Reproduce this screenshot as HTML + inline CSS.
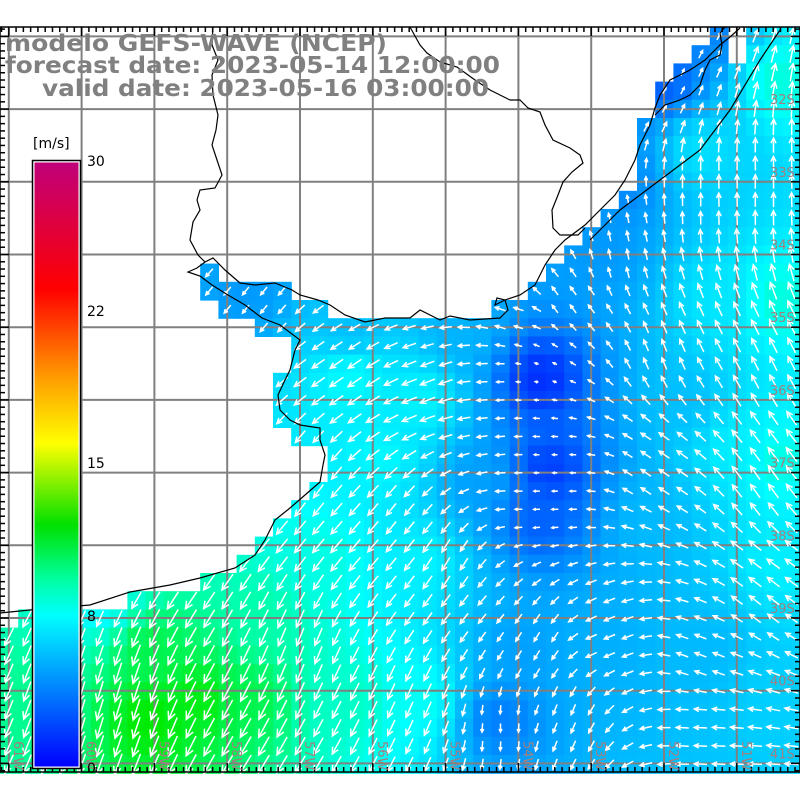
<!DOCTYPE html>
<html><head><meta charset="utf-8">
<style>
html,body{margin:0;padding:0;background:#fff;width:800px;height:800px;overflow:hidden}
svg{display:block}
</style></head>
<body>
<svg id="s" width="800" height="800" xmlns="http://www.w3.org/2000/svg">
<defs>
<linearGradient id="cb" x1="0" y1="0" x2="0" y2="1">
<stop offset="0" stop-color="#c0007a"/>
<stop offset="0.21" stop-color="#ff0000"/>
<stop offset="0.36" stop-color="#ffa000"/>
<stop offset="0.465" stop-color="#ffff00"/>
<stop offset="0.6" stop-color="#00e000"/>
<stop offset="0.69" stop-color="#00ffa0"/>
<stop offset="0.75" stop-color="#00ffff"/>
<stop offset="1" stop-color="#0000ff"/>
</linearGradient>
</defs>
<g id="cells"></g>
<g id="grid" stroke="#808080" stroke-width="2" fill="none"></g>
<g id="arrows" stroke="#fff" stroke-width="1.5" fill="none"></g>
<g id="coast" stroke="#000" stroke-width="1.2" fill="none">
<polyline points="0,613 30,610 90,605 130,592 170,585 200,578 235,568 255,555 265,540 275,520 290,508 305,495 320,482 323,465 325,455 320,440 320,428 300,425 290,420 280,410 278,395 285,380 290,370 295,350 300,340 280,325 262,318 245,305 228,295 212,285 200,276 188,272 197,268 205,262 213,258 225,270 240,283 255,285 275,283 292,290 300,295 318,300 330,305 345,315 365,322 385,318 410,318 420,310 440,320 450,316 470,320 500,318 508,310 505,300 497,298 495,305 505,300 520,295 535,285 545,265 555,250 565,240 585,225 600,210 615,195 625,180 635,160 640,145 650,125 655,108 660,95 670,80 690,70 705,60 720,45 730,37 740,28"/>
<polyline points="590,240 620,210 660,180 700,150 730,110 760,60 780,30"/>
<polyline points="213,27 212,45 218,60 212,75 213,95 218,115 216,130 212,145 217,160 222,175 215,188 200,190 197,200 200,210 193,222 190,240 198,255 205,262"/>
<polyline points="410,27 420,45 427,53 440,62 457,67 475,80 490,90 500,95 510,100 520,100 528,108 540,112 545,125 553,140 570,148 580,155 583,163 572,172 563,182 558,195 552,210 553,228 560,235 578,235 585,228"/>
<polyline points="655,115 665,105 680,100 690,95 700,85 705,70 710,60 720,55 722,45 720,33 725,27"/>
</g>
<g id="ticks" stroke="#000" stroke-width="1.5"></g>
<rect x="0" y="27" width="800" height="745" fill="none" stroke="#000" stroke-width="1.5"/>
<g id="labs" font-family="DejaVu Sans, Liberation Sans, sans-serif" font-size="13" fill="#a08080"></g>
<rect x="32.5" y="160.5" width="48" height="608" fill="#fff" stroke="#000" stroke-width="1.5"/>
<rect x="34.5" y="162.5" width="44" height="604" fill="url(#cb)"/>
<g font-family="DejaVu Sans, Liberation Sans, sans-serif" font-size="14" fill="#000">
<text x="33" y="148">[m/s]</text>
<text x="87" y="166">30</text>
<text x="87" y="316">22</text>
<text x="87" y="468">15</text>
<text x="87" y="621">8</text>
<text x="87" y="773">0</text>
</g>
<g font-family="DejaVu Sans, Liberation Sans, sans-serif" font-weight="bold" font-size="23" fill="#808080">
<text x="5" y="51" textLength="382" lengthAdjust="spacingAndGlyphs">modelo GEFS-WAVE (NCEP)</text>
<text x="5" y="73" textLength="495" lengthAdjust="spacingAndGlyphs">forecast date: 2023-05-14 12:00:00</text>
<text x="42" y="96" textLength="447" lengthAdjust="spacingAndGlyphs">valid date: 2023-05-16 03:00:00</text>
</g>
</svg>
<script>
(function(){
var NS="http://www.w3.org/2000/svg";
function el(t,a,p){var e=document.createElementNS(NS,t);for(var k in a)e.setAttribute(k,a[k]);p.appendChild(e);return e;}
var sea=[[200,263],[218,263],[218,282],[291,282],[291,300],[326,300],[326,318],[490,318],[490,300],[527,300],[527,282],[545,282],[545,263],[563,263],[563,245],[582,245],[582,226],[600,226],[600,208],[618,208],[618,190],[637,190],[637,118],[655,118],[655,81],[673,81],[673,63],[691,63],[691,45],[709,45],[709,27],[800,27],[800,772],[0,772],[0,627],[18,627],[18,609],[127,609],[127,591],[200,591],[200,573],[237,573],[237,555],[255,555],[255,536],[273,536],[273,518],[292,518],[292,500],[310,500],[310,482],[327,482],[327,445],[290,445],[290,427],[273,427],[273,372],[290,372],[290,336],[255,336],[255,318],[218,318],[218,300],[200,300]];
function inPoly(x,y,p){var c=false;for(var i=0,j=p.length-1;i<p.length;j=i++){var xi=p[i][0],yi=p[i][1],xj=p[j][0],yj=p[j][1];if(((yi>y)!=(yj>y))&&(x<(xj-xi)*(y-yi)/(yj-yi)+xi))c=!c;}return c;}
var sp=[[30,700,9.8],[150,720,11.5],[200,700,11.3],[150,650,10.6],[250,700,10.6],[260,620,9.5],[320,560,8.5],[350,700,9],[420,700,8.2],[500,720,4],[520,650,5],[600,650,5.5],[700,650,5.8],[780,700,6.5],[780,560,7.5],[780,460,8.5],[780,300,8.6],[780,80,8.6],[720,300,7.2],[700,150,7],[660,80,3],[600,250,4.8],[540,380,1.5],[550,470,2],[540,520,3],[480,480,5],[420,400,7.6],[350,380,7.9],[380,460,7.8],[250,290,4.8],[350,325,6],[460,330,5.6],[680,400,6],[650,520,5.8],[420,560,7.6],[100,600,7.8],[700,30,4],[620,180,4.2],[740,450,7.5]];
var dr=[[520,500,-1,0],[560,470,-1,0],[650,470,-1,-0.7],[760,480,-0.7,-1],[760,600,-1,-0.8],[700,650,-1,-0.4],[700,740,-1,-0.05],[540,640,-0.6,1],[560,720,-0.4,1],[505,730,0,1],[600,640,-1,0.4],[700,200,0,-1],[760,200,0,-1],[620,250,-0.2,-1],[560,300,-0.7,-1],[520,320,-1,-0.3],[650,100,0.6,-1],[700,40,0.5,-1],[660,350,-0.4,-1],[250,300,-0.8,1],[350,380,-1,0.7],[430,380,-1,0.4],[480,380,-1,0.05],[300,470,-0.7,1],[400,520,-0.8,1],[450,560,-0.6,1],[100,700,-0.3,1],[300,650,-0.4,1],[400,700,-0.45,1],[760,360,-0.5,-1]];
function idw(x,y,arr,f){var sw=0,s=[0,0];for(var i=0;i<arr.length;i++){var dx=x-arr[i][0],dy=y-arr[i][1],d=dx*dx+dy*dy+50;var w=1/Math.pow(d,1.3);sw+=w;s=f(s,arr[i],w);}return [s[0]/sw,s[1]/sw];}
var stops=[[0,[0,0,255]],[4,[0,128,255]],[8,[0,255,255]],[9.5,[0,255,170]],[11.5,[0,235,0]],[15,[255,255,0]],[19,[255,160,0]],[22,[255,0,0]],[30,[192,0,122]]];
function cmap(v){if(v<=0)return stops[0][1];for(var i=1;i<stops.length;i++){if(v<=stops[i][0]){var a=stops[i-1],b=stops[i],t=(v-a[0])/(b[0]-a[0]);return [0,1,2].map(function(k){return Math.round(a[1][k]+(b[1][k]-a[1][k])*t);});}}return stops[stops.length-1][1];}
var C=document.getElementById("cells"),A=document.getElementById("arrows");
var cw=18.2,ch=18.2;
for(var r=0;r<41;r++){for(var c=0;c<44;c++){
 var x0=c*cw,y0=27+r*ch,cx=x0+cw/2,cy=y0+ch/2;
 if(cy>772)continue;
 if(!inPoly(cx,cy,sea))continue;
 if(cx>727&&cx<745&&cy<63)continue;
 var s=idw(cx,cy,sp,function(a,p,w){return [a[0]+p[2]*w,0];})[0];
 var col=cmap(s);
 el("rect",{x:x0.toFixed(1),y:y0.toFixed(1),width:(cw+0.6).toFixed(1),height:(ch+0.6).toFixed(1),fill:"rgb("+col.join(",")+")"},C);
 var d=idw(cx,cy,dr,function(a,p,w){var n=Math.hypot(p[2],p[3]);return [a[0]+p[2]/n*w,a[1]+p[3]/n*w];});
 var n=Math.hypot(d[0],d[1]),ux=d[0]/n,uy=d[1]/n;
 var L=Math.min(2.1*s,22);
 var tx=cx-ux*L/2,ty=cy-uy*L/2,hx=cx+ux*L/2,hy=cy+uy*L/2;
 var bl=Math.max(L*0.4,2.5),an=0.45;
 function rot(a){var co=Math.cos(a),si=Math.sin(a);return [-(ux*co-uy*si),-(ux*si+uy*co)];}
 var b1=rot(an),b2=rot(-an);
 el("path",{d:"M"+tx.toFixed(1)+" "+ty.toFixed(1)+"L"+hx.toFixed(1)+" "+hy.toFixed(1)+"M"+(hx+b1[0]*bl).toFixed(1)+" "+(hy+b1[1]*bl).toFixed(1)+"L"+hx.toFixed(1)+" "+hy.toFixed(1)+"L"+(hx+b2[0]*bl).toFixed(1)+" "+(hy+b2[1]*bl).toFixed(1)},A);
}}
var G=document.getElementById("grid"),T=document.getElementById("ticks"),LB=document.getElementById("labs");
var gx=[],gy=[];
for(var i=0;i<11;i++){gx.push(8.8+72.8*i);gy.push(36.4+72.7*i);}
gx.forEach(function(x){el("line",{x1:x,y1:27,x2:x,y2:772},G);});
gy.forEach(function(y){el("line",{x1:0,y1:y,x2:800,y2:y},G);});
for(var x=8.8-72.8;x<800;x+=7.28){var maj=Math.abs(((x-8.8)/72.8)-Math.round((x-8.8)/72.8))<0.05;var l=maj?9:5;if(x<0)continue;
 el("line",{x1:x,y1:27,x2:x,y2:27+l},T);el("line",{x1:x,y1:772,x2:x,y2:772-l},T);}
for(var y=36.4-72.7;y<772;y+=7.27){if(y<27)continue;var maj2=Math.abs(((y-36.4)/72.7)-Math.round((y-36.4)/72.7))<0.05;var l2=maj2?9:5;
 el("line",{x1:0,y1:y,x2:l2,y2:y},T);el("line",{x1:800,y1:y,x2:800-l2,y2:y},T);}
for(var k=0;k<10;k++){var t=el("text",{x:770,y:(gy[k+1]-5).toFixed(1)},LB);t.textContent=(32+k)+"S";}
var wl=["61W","60W","59W","58W","57W","56W","55W","54W","53W","52W","51W"];
for(var k=0;k<11;k++){var xx=gx[k]+5;var t=el("text",{x:0,y:0,transform:"translate("+xx.toFixed(1)+",741) rotate(90)"},LB);t.textContent=wl[k];}
})();
</script>
</body></html>
